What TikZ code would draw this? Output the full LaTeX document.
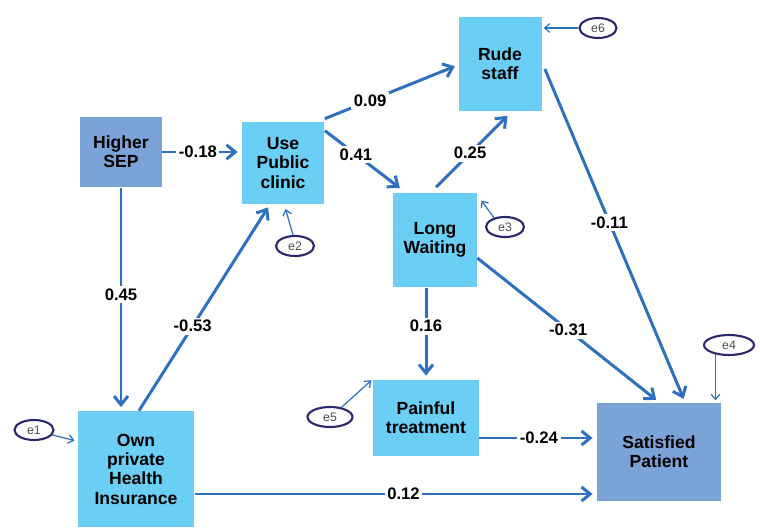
\documentclass[tikz,border=0pt]{standalone}
\usepackage{fontspec}
\setmainfont{Liberation Sans}
\usetikzlibrary{shapes.geometric,arrows.meta,calc}
\definecolor{boxlight}{HTML}{6BCEF5}
\definecolor{boxdark}{HTML}{7BA3D7}
\definecolor{pathblue}{HTML}{2C70BF}
\definecolor{errnavy}{HTML}{29286E}
\begin{document}
\begin{tikzpicture}[x=0.02cm,y=-0.02cm,
  var/.style={fill=boxlight, align=center, inner sep=0pt,
    font=\bfseries\fontsize{10}{11}\selectfont},
  exo/.style={var, fill=boxdark},
  err/.style={ellipse, draw=errnavy, line width=1.2pt, inner sep=0pt,
    minimum height=0.4cm, text=black!70, font=\fontsize{7}{8}\selectfont},
  effect/.style={draw=pathblue, line width=1.7pt, shorten >=2pt,
    -{Straight Barb[length=5pt,width=8pt]}},
  resid/.style={draw=pathblue, line width=0.7pt, shorten >=1pt,
    -{Straight Barb[length=3pt,width=5pt]}},
  coef/.style={fill=white, inner sep=1.5pt, font=\bfseries\fontsize{9.5}{10}\selectfont}]
\useasboundingbox (0,0) rectangle (760,527);
\node[exo, minimum width=1.64cm, minimum height=1.42cm] (sep) at (121,152) {Higher\\SEP};
\node[var, minimum width=1.66cm, minimum height=1.64cm] (use) at (283,163) {Use\\Public\\clinic};
\node[var, minimum width=1.66cm, minimum height=1.88cm] (rude) at (500,64) {Rude\\staff};
\node[var, minimum width=1.68cm, minimum height=1.90cm] (wait) at (435,240) {Long\\Waiting};
\node[var, minimum width=2.12cm, minimum height=1.54cm] (pain) at (426,418) {Painful\\treatment};
\node[var, minimum width=2.34cm, minimum height=2.32cm] (own) at (136,469) {Own\\private\\Health\\Insurance};
\node[exo, minimum width=2.50cm, minimum height=1.98cm] (sat) at (659,452) {Satisfied\\Patient};
\node[err, minimum width=0.78cm] (e1) at (34,430) {e1};
\node[err, minimum width=0.76cm] (e2) at (295,246) {e2};
\node[err, minimum width=0.76cm] (e3) at (505,227) {e3};
\node[err, minimum width=1.00cm] (e4) at (729,345) {e4};
\node[err, minimum width=0.90cm] (e5) at (330,417) {e5};
\node[err, minimum width=0.74cm] (e6) at (598,28) {e6};
\coordinate (painout) at ($(pain.east)+(0,20)$);
\coordinate (ownout) at ($(own.east)+(0,25)$);
\draw[effect] (sep.east) -- (sep.east -| use.west) node[coef, pos=0.45] {-0.18};
\draw[effect] (sep.south) -- (sep.south |- own.north) node[coef, pos=0.48] {0.45};
\draw[effect] ($(own.north)+(3,0)$) -- ($(use.south)+(-13,0)$) node[coef, pos=0.41] {-0.53};
\draw[effect] ($(use.north east)+(0,-3)$) -- ($(rude.west)+(0,1)$) node[coef, pos=0.34] {0.09};
\draw[effect] ($(use.north east)+(0,9)$) -- ($(wait.north west)+(10,-2)$) node[coef, pos=0.4] {0.41};
\draw[effect] ($(wait.north)+(1,-5)$) -- ($(rude.south)+(10,2)$) node[coef, pos=0.46] {0.25};
\draw[effect] (pain.north |- wait.south) -- (pain.north) node[coef, pos=0.42] {0.16};
\draw[effect] ($(wait.east)+(0,18)$) -- (sat.north) node[coef, pos=0.5] {-0.31};
\draw[effect] ($(rude.east)+(3,5)$) -- ($(sat.north)+(26,0)$) node[coef, pos=0.46] {-0.11};
\draw[effect] (painout) -- (painout -| sat.west) node[coef, pos=0.51] {-0.24};
\draw[effect] (ownout) -- (ownout -| sat.west) node[coef, pos=0.52] {0.12};
\draw[resid] (e1.-15) -- ($(own.west)+(-1,-28)$);
\draw[resid] (e2.100) -- ($(use.south)+(2,3)$);
\draw[resid] (e3.140) -- ($(wait.north east)+(3,7)$);
\draw[resid] (e4.215) -- (e4.215 |- sat.north);
\draw[resid] (e5.40) -- (pain.north west);
\draw[resid] (e6.west) -- (e6.west -| rude.east);
\end{tikzpicture}
\end{document}
